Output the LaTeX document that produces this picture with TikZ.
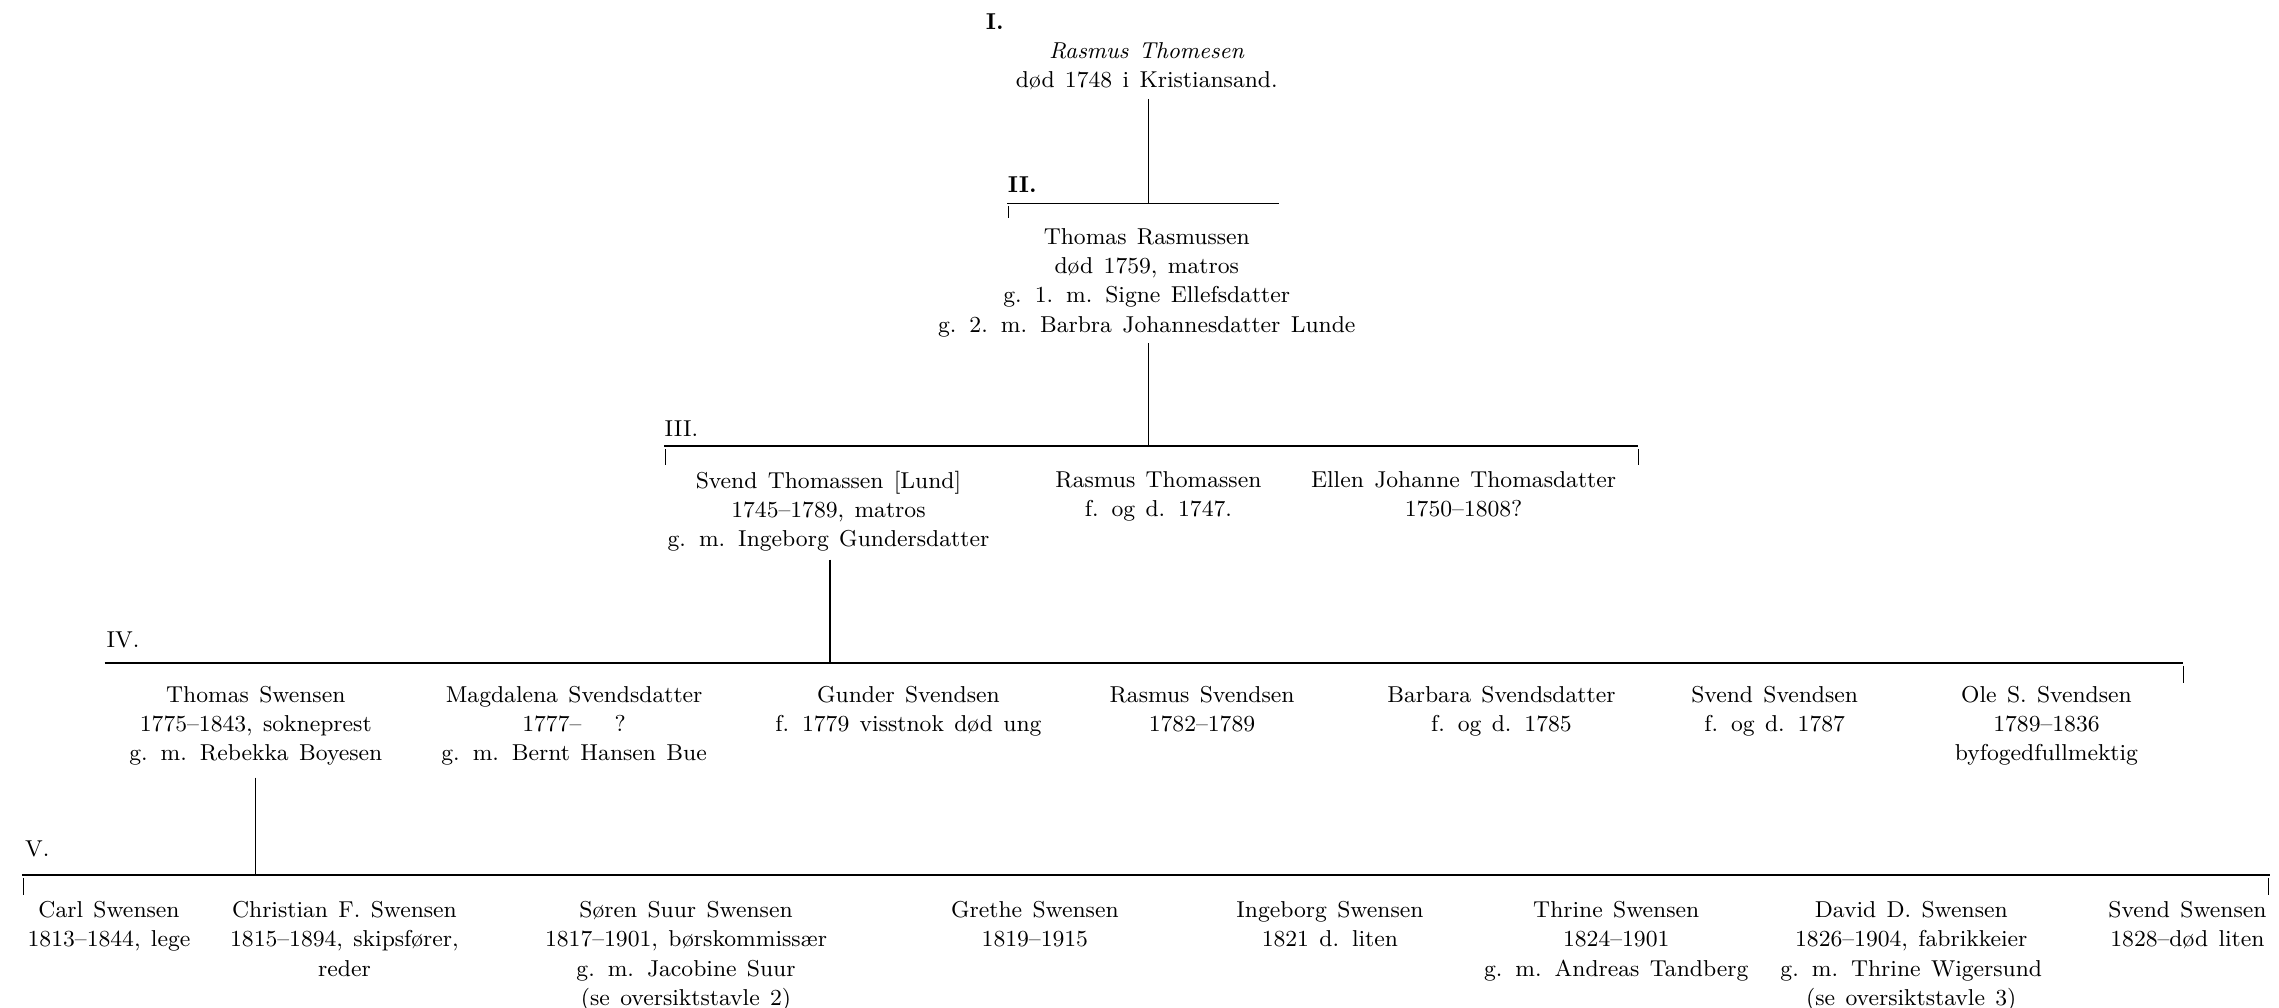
\documentclass[tikz,border=0pt]{standalone}
\usepackage{tikz}
\usetikzlibrary{calc,positioning}
\newcommand{\treefont}{\fontsize{9}{11.4}\selectfont\spaceskip 0.45em plus 0.1em\relax}
\tikzstyle{person} = [align=center, anchor=north, inner sep=0pt, font=\treefont]
\tikzstyle{gen}    = [anchor=west, inner sep=0pt, font=\treefont]
\tikzstyle{bar}    = [line width=0.6pt]
\tikzstyle{stem}   = [line width=0.5pt]
\tikzstyle{tick}   = [line width=0.3pt]
\begin{document}
\begin{tikzpicture}[x=0.2mm, y=-0.2mm]
	\useasboundingbox (0,0) rectangle (1568,693);

	% I.
	\node[gen, font=\treefont\bfseries] (genI) at (678,15) {I.};
	\node[person] (rasmusT) at (789,29) {\textit{Rasmus Thomesen}\\død 1748 i Kristiansand.};
	\coordinate (stemI) at (790,68);

	% II.
	\node[gen, font=\treefont\bfseries] (genII) at (693,127) {II.};
	\coordinate (barIIw) at (693,140);
	\coordinate (barIIe) at (880,140);
	\draw[bar] (barIIw) -- (barIIe);
	\draw[tick] ($(barIIw)+(1,2)$) -- ++(0,8);
	\draw[stem] (stemI) -- (stemI |- barIIw);
	\node[person] (thomasR) at (789,157) {Thomas Rasmussen\\død 1759, matros\\g. 1. m. Signe Ellefsdatter\\g. 2. m. Barbra Johannesdatter Lunde};
	\coordinate (stemII) at (790,236);

	% III.
	\node[gen] (genIII) at (457,295) {III.};
	\coordinate (barIIIw) at (457,307);
	\coordinate (barIIIe) at (1127,307);
	\draw[bar] (barIIIw) -- (barIIIe);
	\draw[tick] ($(barIIIw)+(1,2)$) -- ++(0,11);
	\draw[tick] ($(barIIIe)+(0,2)$) -- ++(0,11);
	\draw[stem] (stemII) -- (stemII |- barIIIw);
	\node[person] (svendT) at (570,324) {Svend Thomassen [Lund]\\1745--1789, matros\\g. m. Ingeborg Gundersdatter};
	\node[person] (rasmusTh) at (797,324) {Rasmus Thomassen\\f. og d. 1747.};
	\node[person] (ellen) at (1007,324) {Ellen Johanne Thomasdatter\\1750--1808?};
	\coordinate (stemIII) at (571,385);

	% IV.
	\node[gen] (genIV) at (73,440) {IV.};
	\coordinate (barIVw) at (72,456);
	\coordinate (barIVe) at (1502,456);
	\draw[bar] (barIVw) -- (barIVe);
	\draw[tick] ($(barIVe)+(0,2)$) -- ++(0,12);
	\draw[stem] (stemIII) -- (stemIII |- barIVw);
	\node[person] (thomasS) at (176,472) {Thomas Swensen\\1775--1843, sokneprest\\g. m. Rebekka Boyesen};
	\node[person] (magdalena) at (395,472) {Magdalena Svendsdatter\\1777--\quad\ ?\\g. m. Bernt Hansen Bue};
	\node[person] (gunder) at (625,472) {Gunder Svendsen\\f. 1779 visstnok død ung};
	\node[person] (rasmusS) at (827,472) {Rasmus Svendsen\\1782--1789};
	\node[person] (barbara) at (1033,472) {Barbara Svendsdatter\\f. og d. 1785};
	\node[person] (svendS) at (1221,472) {Svend Svendsen\\f. og d. 1787};
	\node[person] (ole) at (1408,472) {Ole S. Svendsen\\1789--1836\\byfogedfullmektig};
	\coordinate (stemIV) at (176,535);

	% V.
	\node[gen] (genV) at (17,584) {V.};
	\coordinate (barVw) at (15,602);
	\coordinate (barVe) at (1562,602);
	\draw[bar] (barVw) -- (barVe);
	\draw[tick] ($(barVw)+(1,2)$) -- ++(0,12);
	\draw[tick] ($(barVe)+(-1,2)$) -- ++(0,12);
	\draw[stem] (stemIV) -- (stemIV |- barVw);
	\node[person] (carl) at (75,620) {Carl Swensen\\1813--1844, lege};
	\node[person] (christian) at (237,620) {Christian F. Swensen\\1815--1894, skipsfører,\\reder};
	\node[person] (soren) at (472,620) {Søren Suur Swensen\\1817--1901, børskommissær\\g. m. Jacobine Suur\\(se oversiktstavle 2)};
	\node[person] (grethe) at (712,620) {Grethe Swensen\\1819--1915};
	\node[person] (ingeborg) at (915,620) {Ingeborg Swensen\\1821 d. liten};
	\node[person] (thrine) at (1112,620) {Thrine Swensen\\1824--1901\\g. m. Andreas Tandberg};
	\node[person] (david) at (1315,620) {David D. Swensen\\1826--1904, fabrikkeier\\g. m. Thrine Wigersund\\(se oversiktstavle 3)};
	\node[person] (svendSw) at (1505,620) {Svend Swensen\\1828--død liten};
\end{tikzpicture}
\end{document}
